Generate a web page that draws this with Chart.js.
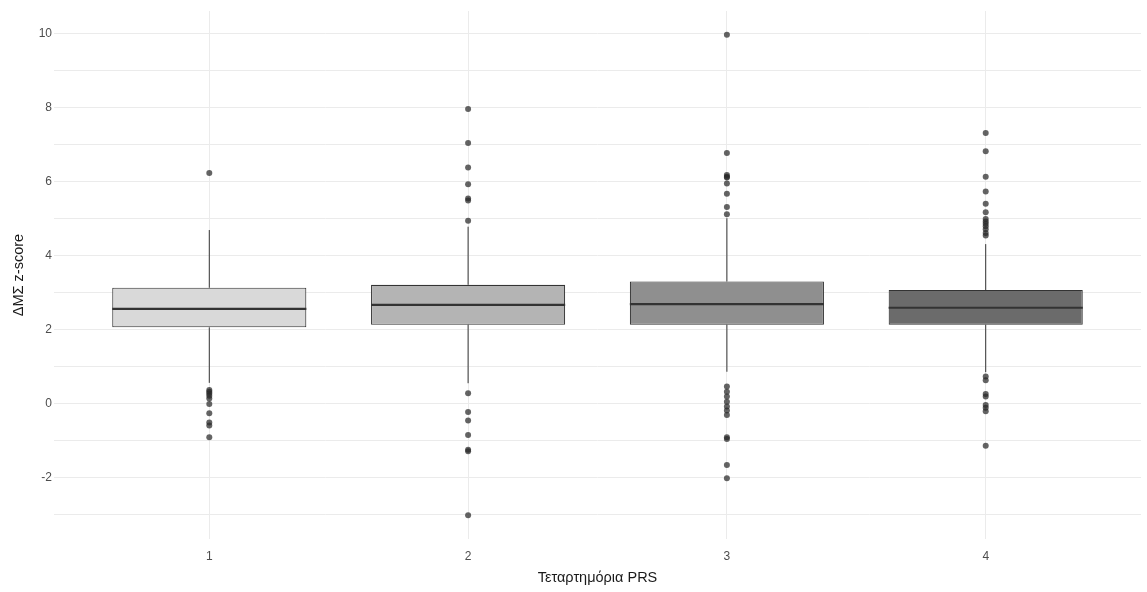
<!DOCTYPE html>
<html>
<head>
<meta charset="utf-8">
<script src="https://cdn.jsdelivr.net/npm/chart.js@4.4.1/dist/chart.umd.min.js"></script>
<style>
  html, body { margin: 0; padding: 0; background: #fff; }
  #wrap { width: 1147px; height: 592px; }
</style>
</head>
<body>
<div id="wrap"><canvas id="c"></canvas></div>
<script>
const categories = [1, 2, 3, 4];
const q1 = [2.07, 2.14, 2.14, 2.14];
const medians = [2.57, 2.68, 2.70, 2.60];
const q3 = [3.14, 3.22, 3.31, 3.08];
const whiskerLow = [0.57, 0.56, 0.87, 0.86];
const whiskerHigh = [4.70, 4.79, 5.02, 4.32];
const outliers1 = [6.24, 0.38, 0.33, 0.28, 0.22, 0.15, 0.0, -0.25, -0.5, -0.58, -0.9];
const outliers2 = [7.97, 7.05, 6.39, 5.94, 5.55, 5.5, 4.95, 0.29, -0.22, -0.45, -0.84, -1.24, -1.28, -3.01];
const outliers3 = [9.98, 6.78, 6.19, 6.14, 6.12, 5.96, 5.68, 5.32, 5.13, 0.47, 0.33, 0.2, 0.06, -0.07, -0.18, -0.3, -0.9, -0.95, -1.65, -2.01];
const outliers4 = [7.32, 6.83, 6.14, 5.74, 5.41, 5.18, 5.0, 4.93, 4.87, 4.8, 4.72, 4.62, 4.55, 0.74, 0.64, 0.27, 0.2, -0.03, -0.1, -0.2, -1.13];
const boxColors = ['#d9d9d9', '#b4b4b4', '#8f8f8f', '#6b6b6b'];
const yTicks = [-3, -2, -1, 0, 1, 2, 3, 4, 5, 6, 7, 8, 9, 10];

const outlierPoints = [];
[outliers1, outliers2, outliers3, outliers4].forEach((arr, i) => {
  arr.forEach(v => outlierPoints.push({ x: categories[i], y: v }));
});

// whiskers and medians, placed with the chart's scales
const boxExtras = {
  id: 'boxExtras',
  afterDatasetsDraw(chart) {
    const ctx = chart.ctx;
    const y = chart.scales.y;
    const meta = chart.getDatasetMeta(0);
    ctx.save();
    meta.data.forEach((bar, i) => {
      const half = bar.width / 2;
      ctx.strokeStyle = '#333333';
      ctx.lineWidth = 1;
      ctx.beginPath();
      ctx.moveTo(bar.x, y.getPixelForValue(q3[i]));
      ctx.lineTo(bar.x, y.getPixelForValue(whiskerHigh[i]));
      ctx.moveTo(bar.x, y.getPixelForValue(q1[i]));
      ctx.lineTo(bar.x, y.getPixelForValue(whiskerLow[i]));
      ctx.stroke();
      ctx.lineWidth = 2.2;
      ctx.beginPath();
      const my = y.getPixelForValue(medians[i]);
      ctx.moveTo(bar.x - half, my);
      ctx.lineTo(bar.x + half, my);
      ctx.stroke();
    });
    ctx.restore();
  }
};

new Chart(document.getElementById('c'), {
  type: 'bar',
  data: {
    datasets: [{
      type: 'bar',
      data: categories.map((c, i) => ({ x: c, y: [q1[i], q3[i]] })),
      backgroundColor: boxColors,
      borderColor: '#333333',
      borderWidth: 1.1,
      borderSkipped: false,
      barPercentage: 0.75,
      categoryPercentage: 1,
      order: 2
    }, {
      type: 'scatter',
      data: outlierPoints,
      backgroundColor: 'rgba(40,40,40,0.72)',
      borderWidth: 0,
      pointRadius: 3,
      order: 1
    }]
  },
  options: {
    responsive: true,
    maintainAspectRatio: false,
    animation: false,
    layout: { padding: { top: 11, right: 6, left: 0, bottom: 0 } },
    plugins: { legend: { display: false }, tooltip: { enabled: false } },
    scales: {
      x: {
        type: 'linear',
        min: 0.4,
        max: 4.6,
        offset: false,
        afterBuildTicks: s => { s.ticks = categories.map(v => ({ value: v })); },
        afterFit: s => { s.height = 53; },
        grid: { color: '#ebebeb', drawTicks: false, offset: false },
        border: { display: false },
        ticks: { color: '#4d4d4d', font: { family: 'Liberation Sans', size: 12 }, padding: 10 },
        title: { display: true, text: 'Τεταρτημόρια PRS', color: '#1a1a1a', font: { family: 'Liberation Sans', size: 14.5 }, padding: { top: 0, bottom: 5 } }
      },
      y: {
        min: -3.65,
        max: 10.62,
        afterBuildTicks: s => { s.ticks = yTicks.map(v => ({ value: v })); },
        afterFit: s => { s.width = 54; },
        grid: { color: '#ebebeb', drawTicks: false },
        border: { display: false },
        ticks: {
          color: '#4d4d4d',
          font: { family: 'Liberation Sans', size: 12 },
          padding: 2,
          callback: v => (v % 2 === 0 ? String(v) : '')
        },
        title: { display: true, text: 'ΔΜΣ z-score', color: '#1a1a1a', font: { family: 'Liberation Sans', size: 14.5 }, padding: { top: 10, bottom: 0 } }
      }
    }
  },
  plugins: [boxExtras]
});
</script>
</body>
</html>
